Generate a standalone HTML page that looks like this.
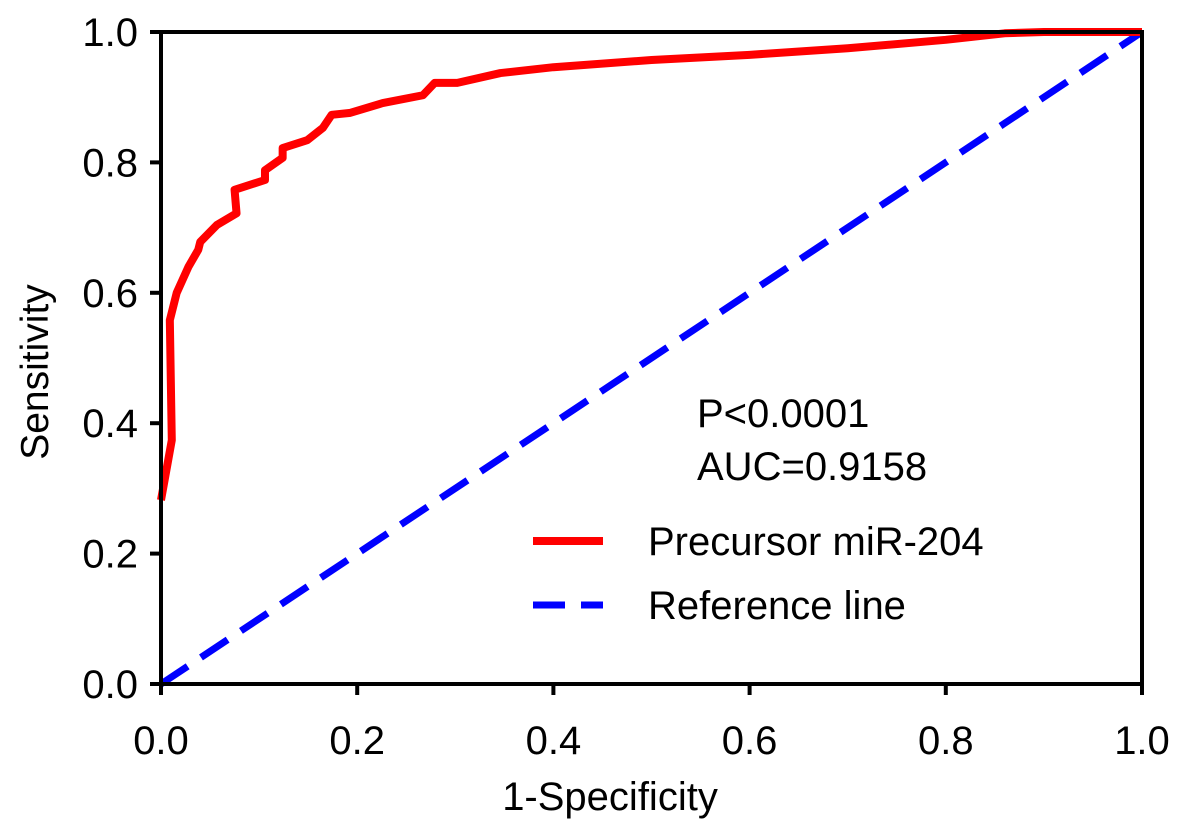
<!DOCTYPE html>
<html><head><meta charset="utf-8"><style>
body{margin:0;background:#fff;}
svg{display:block;font-family:"Liberation Sans",Arial,sans-serif;}
</style></head><body>
<svg id="chart" width="1181" height="834"></svg>
<script>
const xTicks=[0,0.2,0.4,0.6,0.8,1.0];
const yTicks=[0,0.2,0.4,0.6,0.8,1.0];
const tickLabels=["0.0","0.2","0.4","0.6","0.8","1.0"];
const rocX=[0,0.011,0.009,0.016,0.028,0.038,0.040,0.057,0.077,0.075,0.106,0.106,0.124,0.124,0.149,0.165,0.174,0.193,0.226,0.267,0.279,0.302,0.346,0.4,0.5,0.6,0.7,0.8,0.86,0.9,1.0];
const rocY=[0.282,0.374,0.558,0.600,0.640,0.666,0.678,0.704,0.722,0.758,0.773,0.788,0.807,0.822,0.834,0.853,0.873,0.876,0.891,0.903,0.922,0.922,0.937,0.946,0.957,0.965,0.975,0.988,0.998,1.0,1.0];
const refX=[0,1];
const refY=[0,1];
const NS="http://www.w3.org/2000/svg";
const svg=document.getElementById('chart');
const X0=161,X1=1142,Y0=684,Y1=32;
const sx=v=>X0+v*(X1-X0), sy=v=>Y0-v*(Y0-Y1);
function mk(t,a){const e=document.createElementNS(NS,t);for(const k in a)e.setAttribute(k,a[k]);svg.appendChild(e);return e;}
let e;
e=mk('polyline',{points:refX.map((v,i)=>sx(v)+','+sy(refY[i])).join(' '),fill:'none',stroke:'#0000ff','stroke-width':7,'stroke-dasharray':'32,16'});


e=mk('polyline',{points:rocX.map((v,i)=>sx(v)+','+sy(rocY[i])).join(' '),fill:'none',stroke:'#ff0000','stroke-width':8,'stroke-linejoin':'round'});


e=mk('rect',{x:X0,y:Y1,width:X1-X0,height:Y0-Y1,fill:'none',stroke:'#000','stroke-width':4});


xTicks.forEach((v,i)=>{
 e=mk('line',{x1:sx(v),x2:sx(v),y1:Y0,y2:Y0+11,stroke:'#000','stroke-width':4});
 
 
 e=mk('text',{x:sx(v),y:754,'font-size':40,'text-anchor':'middle'});e.textContent=tickLabels[i];
 
 
});
yTicks.forEach((v,i)=>{
 e=mk('line',{x1:X0-11,x2:X0,y1:sy(v),y2:sy(v),stroke:'#000','stroke-width':4});
 
 
 e=mk('text',{x:138,y:sy(v)+14,'font-size':40,'text-anchor':'end'});e.textContent=tickLabels[i];
 
 
});
e=mk('text',{x:610,y:810,'font-size':40,'text-anchor':'middle'});e.textContent='1-Specificity';


e=mk('text',{x:48,y:372,'font-size':39,'text-anchor':'middle',transform:'rotate(-90 48 372)'});e.textContent='Sensitivity';


e=mk('text',{x:697,y:427,'font-size':40});e.textContent='P<0.0001';


e=mk('text',{x:697,y:480,'font-size':40});e.textContent='AUC=0.9158';


e=mk('line',{x1:533,x2:603,y1:541,y2:541,stroke:'#ff0000','stroke-width':8});


e=mk('text',{x:648,y:555,'font-size':40});e.textContent='Precursor miR-204';


e=mk('line',{x1:533,x2:603,y1:605,y2:605,stroke:'#0000ff','stroke-width':7,'stroke-dasharray':'32,16'});


e=mk('text',{x:648,y:619,'font-size':40});e.textContent='Reference line';


</script>
</body></html>
